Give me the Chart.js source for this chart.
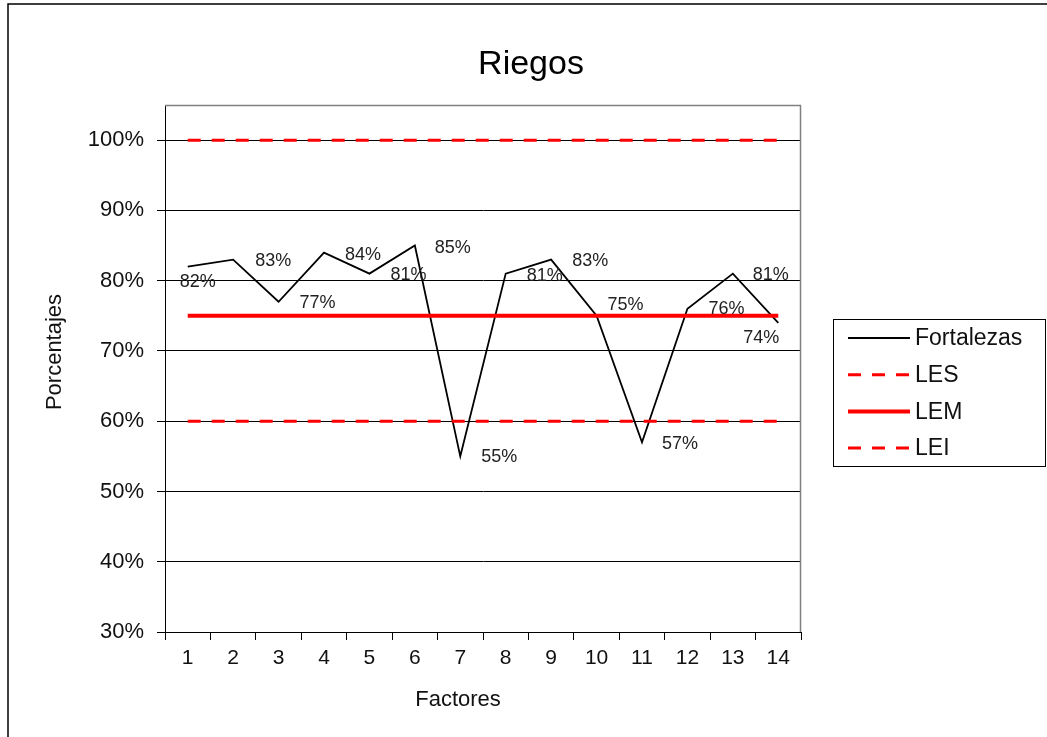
<!DOCTYPE html>
<html><head><meta charset="utf-8">
<script src="https://cdn.jsdelivr.net/npm/chart.js@4.4.0/dist/chart.umd.min.js"></script>
<style>html,body{margin:0;padding:0;background:#fff}canvas{display:block}</style>
</head><body>
<canvas id="c" width="1047" height="737" style="width:1047px;height:737px"></canvas>
<script>
const chartTitle = 'Riegos';
const xTitle = 'Factores';
const yTitle = 'Porcentajes';
const categories = ['1','2','3','4','5','6','7','8','9','10','11','12','13','14'];
const fortalezas = [82, 83, 77, 84, 81, 85, 55, 81, 83, 75, 57, 76, 81, 74];
const les = [100, 100, 100, 100, 100, 100, 100, 100, 100, 100, 100, 100, 100, 100];
const lem = [75, 75, 75, 75, 75, 75, 75, 75, 75, 75, 75, 75, 75, 75];
const lei = [60, 60, 60, 60, 60, 60, 60, 60, 60, 60, 60, 60, 60, 60];
const yTicks = [30, 40, 50, 60, 70, 80, 90, 100];

// label placement (style, not data)
const labelDx = [10, 40, 39, 39, 39, 38, 39, 39, 39, 29, 38, 39, 38, -17];
const labelDy = [15, 1, 1, 2, 1, 2, 1, 2, 1, -11, 2, 0, 1, 15];

const FAM = '"Liberation Sans", Arial, sans-serif';

const decor = {
  id: 'decor',
  beforeDraw(chart) {
    const ctx = chart.ctx;
    ctx.save();
    ctx.fillStyle = '#fff';
    ctx.fillRect(0, 0, chart.width, chart.height);
    ctx.strokeStyle = '#000';
    ctx.lineWidth = 1.5;
    ctx.beginPath();
    ctx.moveTo(8, chart.height);
    ctx.lineTo(8, 4);
    ctx.lineTo(chart.width, 4);
    ctx.stroke();
    ctx.restore();
  },
  afterDatasetsDraw(chart) {
    const ctx = chart.ctx;
    const a = chart.chartArea;
    ctx.save();
    // plot border top/right
    ctx.strokeStyle = '#808080';
    ctx.lineWidth = 1.5;
    ctx.beginPath();
    ctx.moveTo(a.left, a.top + 0.5);
    ctx.lineTo(a.right - 0.5, a.top + 0.5);
    ctx.lineTo(a.right - 0.5, a.bottom);
    ctx.stroke();
    // data labels
    const meta = chart.getDatasetMeta(0);
    ctx.font = '18px ' + FAM;
    ctx.fillStyle = '#222';
    ctx.textAlign = 'center';
    ctx.textBaseline = 'middle';
    meta.data.forEach((pt, i) => {
      ctx.fillText(chart.data.datasets[0].data[i] + '%', pt.x + labelDx[i], pt.y + labelDy[i]);
    });
    // title
    ctx.font = '34px ' + FAM;
    ctx.fillStyle = '#000';
    ctx.fillText(chartTitle, 531, 65);
    // axis titles
    ctx.font = '22px ' + FAM;
    ctx.fillStyle = '#111';
    ctx.fillText(xTitle, 458, 700);
    ctx.save();
    ctx.translate(55, 352);
    ctx.rotate(-Math.PI / 2);
    ctx.fillText(yTitle, 0, 0);
    ctx.restore();
    // legend
    const lx = 833, ly = 319, lw = 212, lh = 147;
    ctx.strokeStyle = '#000';
    ctx.lineWidth = 1;
    ctx.strokeRect(lx + 0.5, ly + 0.5, lw, lh);
    ctx.font = '23px ' + FAM;
    ctx.textAlign = 'left';
    chart.data.datasets.forEach((ds, i) => {
      const y = 338 + i * 36.7;
      ctx.save();
      ctx.strokeStyle = ds.borderColor;
      ctx.lineWidth = ds.borderWidth;
      ctx.setLineDash(ds.borderDash || []);
      ctx.beginPath();
      ctx.moveTo(848, y);
      ctx.lineTo(910, y);
      ctx.stroke();
      ctx.restore();
      ctx.fillStyle = '#111';
      ctx.fillText(ds.label, 915, y + 1);
    });
    ctx.restore();
  }
};

new Chart(document.getElementById('c'), {
  type: 'line',
  data: {
    labels: categories,
    datasets: [
      {label: 'Fortalezas', data: fortalezas, borderColor: '#000', borderWidth: 1.8, pointRadius: 0, order: 4, tension: 0},
      {label: 'LES', data: les, borderColor: '#ff0000', borderWidth: 3, borderDash: [13, 11], pointRadius: 0, order: 3},
      {label: 'LEM', data: lem, borderColor: '#ff0000', borderWidth: 4, pointRadius: 0, order: 2},
      {label: 'LEI', data: lei, borderColor: '#ff0000', borderWidth: 3, borderDash: [13, 11], pointRadius: 0, order: 1}
    ]
  },
  options: {
    responsive: false,
    animation: false,
    events: [],
    layout: {padding: {left: 0, right: 246, top: 105, bottom: 0}},
    plugins: {legend: {display: false}, title: {display: false}, tooltip: {enabled: false}},
    scales: {
      x: {
        offset: true,
        grid: {offset: true, drawOnChartArea: false, drawTicks: true, tickLength: 8, color: '#000', lineWidth: 1},
        border: {display: true, color: '#000', width: 1},
        ticks: {font: {size: 21, family: FAM}, color: '#111', padding: 6, maxRotation: 0, autoSkip: false},
        afterFit(s) { s.height = 105; }
      },
      y: {
        min: 30, max: 105,
        afterBuildTicks(s) { s.ticks = yTicks.map(v => ({value: v})); },
        grid: {color: '#000', lineWidth: 1, tickLength: 8},
        border: {display: true, color: '#000', width: 1},
        ticks: {font: {size: 22, family: FAM}, color: '#111', padding: 13, callback: v => v + '%'},
        afterFit(s) { s.width = 165; }
      }
    }
  },
  plugins: [decor]
});
</script>
</body></html>
